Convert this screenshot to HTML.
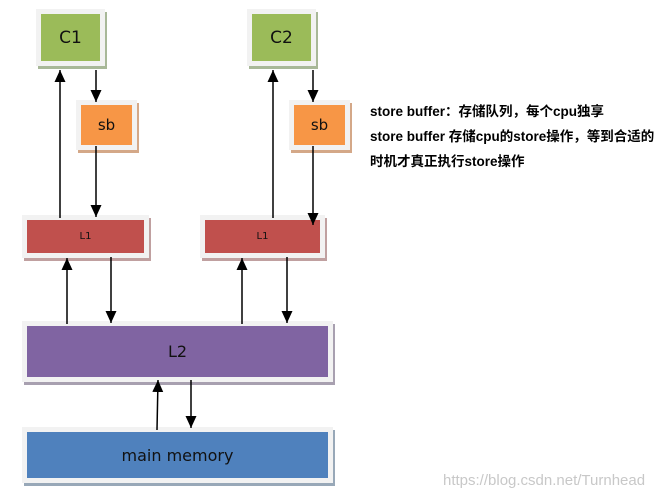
<!DOCTYPE html>
<html><head><meta charset="utf-8"><style>
body{margin:0;width:665px;height:499px;background:#fff;position:relative;overflow:hidden;font-family:"Liberation Sans","Noto Sans CJK SC",sans-serif}
.b{position:absolute;background:#f2f2f2;box-shadow:2px 3px 0 #a9a9a9}
.i{position:absolute;left:5px;top:5px;right:5px;bottom:5px;display:flex;align-items:center;justify-content:center;color:#111;font-family:"DejaVu Sans",sans-serif}
.t{position:absolute;left:370px;font-size:13.5px;font-weight:bold;color:#000;white-space:nowrap}
svg{position:absolute;left:0;top:0}
</style></head><body>
<div class="b" style="left:36px;top:9px;width:69px;height:57px;box-shadow:2px 3px 0 #a8b898"><div class="i" style="background:#9bbb59;font-size:17px">C1</div></div>
<div class="b" style="left:247px;top:9px;width:69px;height:57px;box-shadow:2px 3px 0 #a8b898"><div class="i" style="background:#9bbb59;font-size:17px">C2</div></div>
<div class="b" style="left:76px;top:100px;width:61px;height:50px;box-shadow:2px 3px 0 #d4a888"><div class="i" style="background:#f79646;font-size:15px">sb</div></div>
<div class="b" style="left:289px;top:100px;width:61px;height:50px;box-shadow:2px 3px 0 #d4a888"><div class="i" style="background:#f79646;font-size:15px">sb</div></div>
<div class="b" style="left:22px;top:215px;width:127px;height:43px;box-shadow:2px 3px 0 #c0a0a0"><div class="i" style="background:#c0504d;font-size:10px">L1</div></div>
<div class="b" style="left:200px;top:215px;width:125px;height:43px;box-shadow:2px 3px 0 #c0a0a0"><div class="i" style="background:#c0504d;font-size:10px">L1</div></div>
<div class="b" style="left:22px;top:321px;width:311px;height:61px;box-shadow:2px 3px 0 #a8a0b0"><div class="i" style="background:#8064a2;font-size:16px">L2</div></div>
<div class="b" style="left:22px;top:427px;width:311px;height:56px;box-shadow:2px 3px 0 #98a8b8"><div class="i" style="background:#4f81bd;font-size:16px">main memory</div></div>
<svg width="665" height="499">
<defs><marker id="m" viewBox="0 0 12 11" refX="12" refY="5.5" markerWidth="12" markerHeight="11" orient="auto" markerUnits="userSpaceOnUse"><path d="M0,0 L12,5.5 L0,11 z" fill="#000"/></marker></defs>
<g stroke="#000" stroke-width="1.5" marker-end="url(#m)">
<line x1="60" y1="218" x2="60" y2="70"/>
<line x1="96" y1="70" x2="96" y2="102"/>
<line x1="96" y1="146" x2="96" y2="217"/>
<line x1="67" y1="324" x2="67" y2="258"/>
<line x1="111" y1="257" x2="111" y2="323"/>
<line x1="273" y1="218" x2="273" y2="70"/>
<line x1="313" y1="70" x2="313" y2="102"/>
<line x1="313" y1="146" x2="313" y2="225"/>
<line x1="242" y1="324" x2="242" y2="258"/>
<line x1="287" y1="257" x2="287" y2="323"/>
<line x1="157" y1="430" x2="158" y2="380"/>
<line x1="191" y1="380" x2="191" y2="428"/>
</g></svg>
<div class="t" style="top:100px">store buffer：存储队列，每个cpu独享</div>
<div class="t" style="top:125px">store buffer 存储cpu的store操作，等到合适的</div>
<div class="t" style="top:150px">时机才真正执行store操作</div>
<div style="position:absolute;left:443px;top:472px;font-size:15px;color:#c8c8c8">https://blog.csdn.net/Turnhead</div>
</body></html>
